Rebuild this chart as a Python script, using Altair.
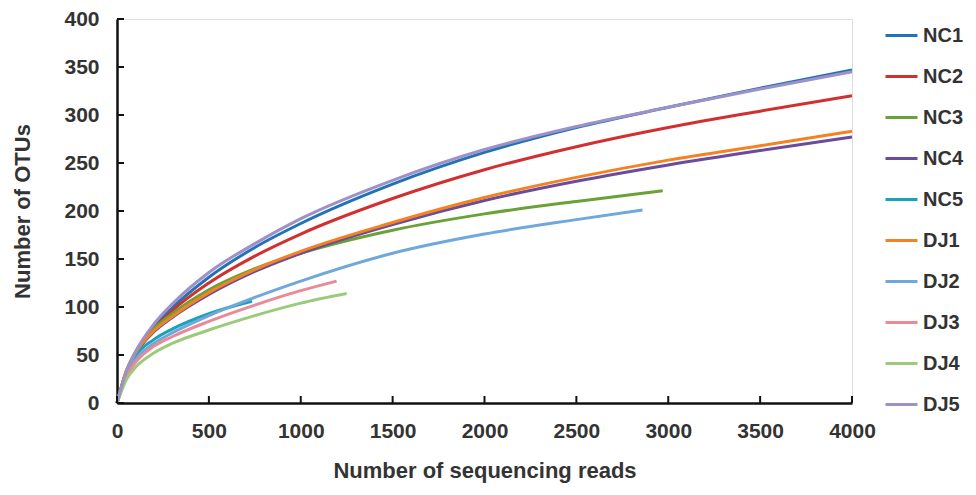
import altair as alt
import pandas as pd

# ---- data ----
series = ["NC1", "NC2", "NC3", "NC4", "NC5", "DJ1", "DJ2", "DJ3", "DJ4", "DJ5"]
colors = ["#2273B5", "#D1302F", "#6BA236", "#6A4C9E", "#1AA3B8",
          "#F58220", "#6FA8DC", "#EA8A96", "#9BCB7A", "#9E90C8"]

reads_full = [0, 50, 100, 200, 300, 500, 750, 1000, 1500, 2000, 2500, 3000, 3500, 4000]
NC1 = [0, 31, 51, 79, 99, 131, 162, 187, 228, 261, 287, 308, 328, 347]
NC2 = [0, 30, 50, 77, 96, 125, 153, 176, 213, 243, 267, 287, 304, 320]
NC4 = [0, 32, 51, 74, 89, 113, 137, 156, 186, 211, 231, 248, 263, 277]
DJ1 = [0, 33, 52, 75, 90, 115, 139, 158, 188, 214, 235, 253, 268, 283]
DJ5 = [0, 32, 53, 82, 103, 136, 166, 192, 232, 264, 288, 308, 327, 345]

reads_NC3 = [0, 50, 100, 200, 300, 500, 750, 1000, 1500, 2000, 2500, 2970]
NC3 = [0, 33, 53, 77, 93, 118, 140, 156, 180, 197, 210, 221]
reads_NC5 = [0, 50, 100, 200, 300, 500, 735]
NC5 = [0, 32, 49, 66, 77, 93, 106]
reads_DJ2 = [0, 50, 100, 200, 300, 500, 750, 1000, 1500, 2000, 2500, 2860]
DJ2 = [0, 29, 45, 62, 73, 91, 110, 127, 156, 176, 191, 201]
reads_DJ3 = [0, 50, 100, 200, 300, 500, 750, 1000, 1195]
DJ3 = [0, 27, 42, 59, 69, 85, 102, 117, 127]
reads_DJ4 = [0, 50, 100, 200, 300, 500, 750, 1000, 1250]
DJ4 = [0, 24, 37, 52, 62, 76, 91, 104, 114]

x_ticks = [0, 500, 1000, 1500, 2000, 2500, 3000, 3500, 4000]
y_ticks = [0, 50, 100, 150, 200, 250, 300, 350, 400]

pairs = {
    "NC1": (reads_full, NC1), "NC2": (reads_full, NC2), "NC3": (reads_NC3, NC3),
    "NC4": (reads_full, NC4), "NC5": (reads_NC5, NC5), "DJ1": (reads_full, DJ1),
    "DJ2": (reads_DJ2, DJ2), "DJ3": (reads_DJ3, DJ3), "DJ4": (reads_DJ4, DJ4),
    "DJ5": (reads_full, DJ5),
}
rows = []
for i, s in enumerate(series):
    xs, ys = pairs[s]
    for x, y in zip(xs, ys):
        rows.append({"sample": s, "reads": x, "otus": y, "k": i})
df = pd.DataFrame(rows)

FONT = "Liberation Sans"
W, H = 735, 384

xs_scale = alt.Scale(domain=[0, 4000], nice=False, zero=True)
ys_scale = alt.Scale(domain=[0, 400], nice=False)

lines = alt.Chart(df).mark_line(strokeWidth=3, interpolate="monotone").encode(
    x=alt.X("reads:Q", scale=xs_scale,
            axis=alt.Axis(values=x_ticks, title="Number of sequencing reads",
                          format="d", ticks=False, grid=False, labelFlush=False,
                          domainColor="#111", domainWidth=2.5,
                          labelFont=FONT, labelFontSize=21, labelFontWeight="bold",
                          labelColor="#333", labelPadding=17,
                          titleFont=FONT, titleFontSize=22, titleFontWeight="bold",
                          titleColor="#333", titleY=67, titleBaseline="middle")),
    y=alt.Y("otus:Q", scale=ys_scale,
            axis=alt.Axis(values=y_ticks, title="Number of OTUs",
                          ticks=False, grid=False, labelFlush=False,
                          domainColor="#111", domainWidth=2.5,
                          labelFont=FONT, labelFontSize=21, labelFontWeight="bold",
                          labelColor="#333", labelPadding=18,
                          titleFont=FONT, titleFontSize=22, titleFontWeight="bold",
                          titleColor="#333", titleX=-95, titleY=H / 2,
                          titleAlign="center", titleBaseline="middle")),
    color=alt.Color("sample:N", sort=series,
                    scale=alt.Scale(domain=series, range=colors),
                    legend=alt.Legend(title=None, orient="none", legendX=767, legendY=-1,
                                      symbolType="stroke", symbolSize=1024,
                                      symbolStrokeWidth=3, rowPadding=13,
                                      labelFont=FONT, labelFontSize=20,
                                      labelFontWeight="bold", labelColor="#333",
                                      labelOffset=4)),
    detail="sample:N",
    order="k:Q",
)

ytick_df = pd.DataFrame({"v": y_ticks})
xtick_df = pd.DataFrame({"v": x_ticks})

yticks = alt.Chart(ytick_df).mark_rule(color="#111", strokeWidth=2).encode(
    y=alt.Y("v:Q", scale=ys_scale), x=alt.value(0), x2=alt.value(7))
xticks = alt.Chart(xtick_df).mark_rule(color="#111", strokeWidth=2).encode(
    x=alt.X("v:Q", scale=xs_scale), y=alt.value(H), y2=alt.value(H - 7))

chart = alt.layer(lines, yticks, xticks).properties(
    width=W, height=H,
    autosize=alt.AutoSizeParams(type="none"),
    padding={"left": 109, "top": 11, "right": 116, "bottom": 84},
).configure_view(stroke=None).configure(background="white")

chart.save("out.html", embed_options={"renderer": "svg", "actions": False})
